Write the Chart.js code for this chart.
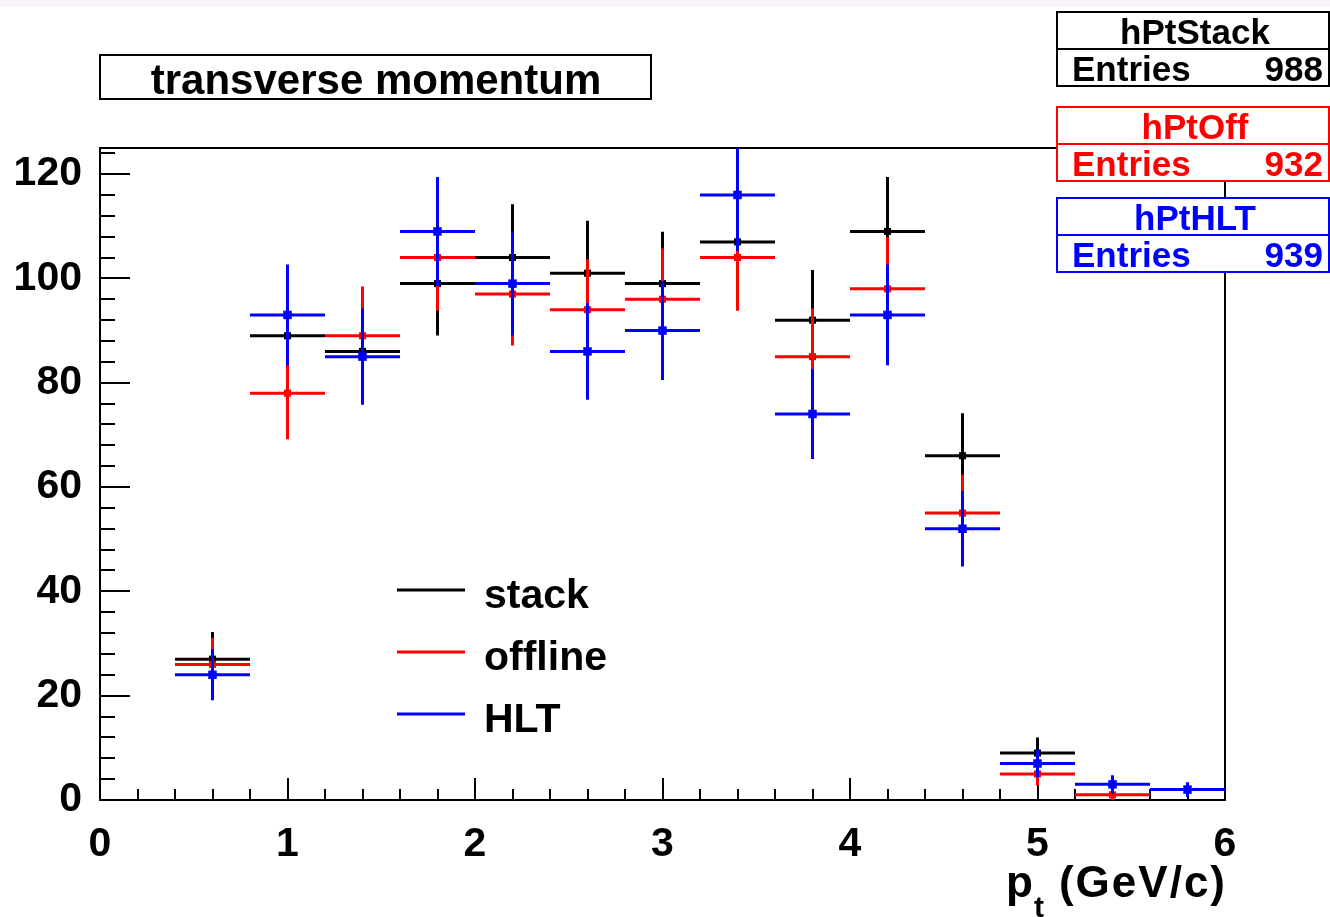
<!DOCTYPE html>
<html lang="en">
<head>
    <meta charset="UTF-8">
    <title>transverse momentum</title>
    <style>
        html, body { margin: 0; padding: 0; background: #fff; }
        canvas { display: block; }
    </style>
</head>
<body>
    <canvas id="ptChart" width="1330" height="917"></canvas>

    <script src="https://cdn.jsdelivr.net/npm/chart.js"></script>

    <script>
        // bins of 0.4 GeV/c
        const binCenters = [0.6, 1.0, 1.4, 1.8, 2.2, 2.6, 3.0, 3.4, 3.8, 4.2, 4.6, 5.0, 5.4, 5.8]
        const binHalfWidth = 0.2
        const stackCounts   = [27, 89, 86,  99, 104, 101, 99, 107, 92, 109, 66, 9, 0, 0]
        const offlineCounts = [26, 78, 89, 104,  97,  94, 96, 104, 85,  98, 55, 5, 1, 0]
        const hltCounts     = [24, 93, 85, 109,  99,  86, 90, 116, 74,  93, 52, 7, 3, 2]

        const xTicks = [0, 1, 2, 3, 4, 5, 6]
        const yTicks = [0, 20, 40, 60, 80, 100, 120]

        const legendLabels = ['stack', 'offline', 'HLT']
        const statsNames = ['hPtStack', 'hPtOff', 'hPtHLT']
        const statsEntries = [988, 932, 939]
        const titleText = 'transverse momentum'

        const colors = ['#000000', '#ff0000', '#0000ff']
        const FONT = "'Liberation Sans', Arial, Helvetica, sans-serif"

        function toPoints(counts) {
            // empty bins are not drawn
            return binCenters.map((x, i) => ({ x, y: counts[i] })).filter(p => p.y > 0)
        }

        // error bars: bin width horizontally, sqrt(N) vertically
        const errorBars = {
            id: 'errorBars',
            beforeDatasetDraw(chart, args) {
                const ds = chart.data.datasets[args.index]
                const xs = chart.scales.x, ys = chart.scales.y
                const area = chart.chartArea
                const ctx = chart.ctx
                ctx.save()
                ctx.beginPath()
                ctx.rect(area.left, area.top, area.right - area.left, area.bottom - area.top)
                ctx.clip()
                ctx.strokeStyle = ds.borderColor
                ctx.lineWidth = 3
                ds.data.forEach(p => {
                    const err = Math.sqrt(p.y)
                    const px = xs.getPixelForValue(p.x)
                    const py = ys.getPixelForValue(p.y)
                    ctx.beginPath()
                    ctx.moveTo(xs.getPixelForValue(p.x - binHalfWidth), py)
                    ctx.lineTo(xs.getPixelForValue(p.x + binHalfWidth), py)
                    ctx.moveTo(px, ys.getPixelForValue(p.y - err))
                    ctx.lineTo(px, ys.getPixelForValue(p.y + err))
                    ctx.stroke()
                })
                ctx.restore()
            }
        }

        // white page, frame, inner ticks, boxes, legend, axis title
        const rootDecor = {
            id: 'rootDecor',
            beforeDraw(chart) {
                const ctx = chart.ctx
                ctx.save()
                ctx.fillStyle = '#ffffff'
                ctx.fillRect(0, 0, chart.width, chart.height)
                ctx.fillStyle = '#fcf3fc'
                ctx.fillRect(0, 0, chart.width, 7)
                ctx.restore()
            },
            beforeDatasetsDraw(chart) {
                const ctx = chart.ctx
                const a = chart.chartArea
                const xs = chart.scales.x, ys = chart.scales.y
                ctx.save()
                ctx.strokeStyle = '#000'
                ctx.lineWidth = 2
                ctx.strokeRect(a.left, a.top, a.right - a.left, a.bottom - a.top)
                ctx.beginPath()
                // y ticks: major every 20, minor every 4
                for (let v = 0; v <= ys.max; v += 4) {
                    const py = Math.round(ys.getPixelForValue(v))
                    const len = v % 20 === 0 ? 30 : 15
                    ctx.moveTo(a.left, py)
                    ctx.lineTo(a.left + len, py)
                }
                // x ticks: major every 1, minor every 0.2
                for (let k = 0; k <= 30; k++) {
                    const px = Math.round(xs.getPixelForValue(k * 0.2))
                    const len = k % 5 === 0 ? 22 : 11
                    ctx.moveTo(px, a.bottom)
                    ctx.lineTo(px, a.bottom - len)
                }
                ctx.stroke()
                ctx.restore()
            },
            afterDraw(chart) {
                const ctx = chart.ctx
                const a = chart.chartArea
                ctx.save()

                // title box
                ctx.fillStyle = '#fff'
                ctx.fillRect(100, 55, 551, 44)
                ctx.strokeStyle = '#000'
                ctx.lineWidth = 2
                ctx.strokeRect(100, 55, 551, 44)
                ctx.fillStyle = '#000'
                ctx.font = `bold 42px ${FONT}`
                ctx.textAlign = 'center'
                ctx.textBaseline = 'alphabetic'
                ctx.fillText(titleText, 376, 94)

                // stats boxes
                const boxTops = [12, 107, 198]
                statsNames.forEach((name, i) => {
                    const top = boxTops[i]
                    const left = 1057, w = 272, h = 74
                    ctx.fillStyle = '#fff'
                    ctx.fillRect(left, top, w, h)
                    ctx.strokeStyle = colors[i]
                    ctx.lineWidth = 2
                    ctx.strokeRect(left, top, w, h)
                    ctx.beginPath()
                    ctx.moveTo(left, top + 37)
                    ctx.lineTo(left + w, top + 37)
                    ctx.stroke()
                    ctx.fillStyle = colors[i]
                    ctx.font = `bold 35px ${FONT}`
                    ctx.textAlign = 'center'
                    ctx.fillText(name, left + w / 2 + 2, top + 32)
                    ctx.textAlign = 'left'
                    ctx.fillText('Entries', 1072, top + 69)
                    ctx.textAlign = 'right'
                    ctx.fillText(String(statsEntries[i]), 1323, top + 69)
                })

                // legend
                const legendY = [590, 652, 714]
                legendLabels.forEach((label, i) => {
                    ctx.strokeStyle = colors[i]
                    ctx.lineWidth = 3
                    ctx.beginPath()
                    ctx.moveTo(397, legendY[i])
                    ctx.lineTo(465, legendY[i])
                    ctx.stroke()
                    ctx.fillStyle = '#000'
                    ctx.font = `bold 41px ${FONT}`
                    ctx.textAlign = 'left'
                    ctx.fillText(label, 484, legendY[i] + 18)
                })

                // x axis title p_t (GeV/c)
                ctx.fillStyle = '#000'
                ctx.font = `bold 44px ${FONT}`
                ctx.textAlign = 'right'
                ctx.letterSpacing = '2px'
                ctx.fillText('(GeV/c)', a.right + 2, 897)
                ctx.letterSpacing = '0px'
                ctx.textAlign = 'left'
                ctx.fillText('p', 1006, 897)
                ctx.font = `bold 30px ${FONT}`
                ctx.fillText('t', 1034, 917)

                ctx.restore()
            }
        }

        const ctx = document.getElementById('ptChart')
        new Chart(ctx, {
            type: 'scatter',
            data: {
                datasets: [
                    { label: legendLabels[0], data: toPoints(stackCounts), order: 3,
                      borderColor: colors[0], backgroundColor: colors[0],
                      pointStyle: 'rect', pointRadius: 5, pointHoverRadius: 5, borderWidth: 0 },
                    { label: legendLabels[1], data: toPoints(offlineCounts), order: 2,
                      borderColor: colors[1], backgroundColor: colors[1],
                      pointStyle: 'rect', pointRadius: 5, pointHoverRadius: 5, borderWidth: 0 },
                    { label: legendLabels[2], data: toPoints(hltCounts), order: 1,
                      borderColor: colors[2], backgroundColor: colors[2],
                      pointStyle: 'rect', pointRadius: 6, pointHoverRadius: 6, borderWidth: 0 }
                ]
            },
            options: {
                responsive: false,
                animation: false,
                events: [],
                layout: { padding: { left: 0, top: 148, right: 105, bottom: 0 } },
                scales: {
                    x: {
                        type: 'linear',
                        min: 0, max: 6,
                        afterBuildTicks: s => { s.ticks = xTicks.map(v => ({ value: v })) },
                        afterFit: s => { s.height = 117 },
                        grid: { display: false, drawTicks: false },
                        border: { display: false },
                        ticks: {
                            autoSkip: false, maxRotation: 0, padding: 20, color: '#000',
                            font: { family: FONT, size: 41, weight: 'bold' }
                        }
                    },
                    y: {
                        type: 'linear',
                        min: 0, max: 125,
                        afterBuildTicks: s => { s.ticks = yTicks.map(v => ({ value: v })) },
                        afterFit: s => { s.width = 100 },
                        grid: { display: false, drawTicks: false },
                        border: { display: false },
                        ticks: {
                            padding: 18, color: '#000',
                            font: { family: FONT, size: 41, weight: 'bold' }
                        }
                    }
                },
                plugins: {
                    legend: { display: false },
                    tooltip: { enabled: false }
                }
            },
            plugins: [errorBars, rootDecor]
        })
    </script>
</body>
</html>
